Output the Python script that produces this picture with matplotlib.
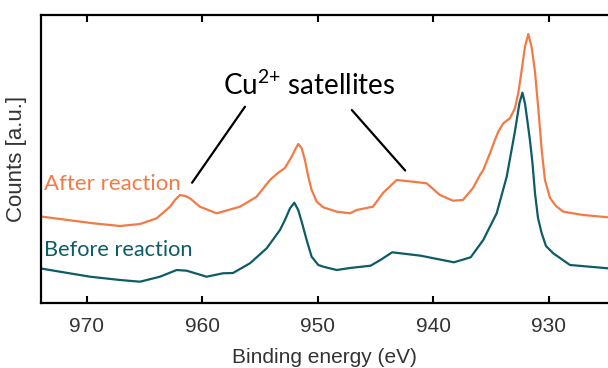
import matplotlib.pyplot as plt

# Cu 2p XPS spectra, counts in arbitrary units
energy_after = [973.98, 971.19, 969.45, 967.14, 965.41, 963.97, 962.81, 962.38,
                961.95, 961.50, 961.08, 960.22, 958.77, 956.75, 955.31, 954.16,
                953.44, 952.86, 952.28, 951.99, 951.71, 951.41, 951.13, 950.84,
                950.55, 950.11, 949.54, 948.38, 947.23, 946.65, 945.24, 944.37,
                943.19, 941.77, 940.59, 939.44, 938.31, 937.45, 936.58, 935.97,
                935.69, 935.10, 934.68, 934.39, 933.96, 933.38, 932.94, 932.66,
                932.36, 932.08, 931.79, 931.50, 931.21, 930.93, 930.63, 930.35,
                929.91, 929.39, 928.76, 927.03, 924.89]
counts_after = [86.5, 82.3, 79.7, 77.0, 79.0, 84.7, 96.3, 103.0,
                108.0, 107.0, 104.7, 96.3, 89.7, 96.3, 106.3, 123.0,
                130.3, 135.0, 146.3, 153.0, 159.0, 154.7, 143.0, 126.3,
                113.0, 101.3, 95.7, 91.3, 89.7, 93.0, 96.3, 110.0,
                123.0, 121.3, 119.7, 108.0, 102.3, 103.0, 115.0, 128.0,
                133.0, 150.0, 163.0, 171.3, 179.7, 184.7, 195.0, 209.7,
                233.0, 256.3, 269.0, 256.0, 231.0, 195.0, 153.0, 123.0,
                105.0, 97.0, 91.3, 88.0, 85.7]

energy_before = [973.98, 972.34, 969.74, 967.14, 965.41, 963.68, 962.23, 961.37,
                 959.64, 958.23, 957.36, 955.89, 954.44, 953.29, 952.86, 952.42,
                 952.05, 951.71, 951.41, 950.98, 950.55, 949.97, 949.54, 948.38,
                 947.23, 945.44, 944.60, 943.57, 941.11, 938.23, 936.78, 935.69,
                 934.53, 933.66, 932.94, 932.79, 932.56, 932.30, 932.08, 931.88,
                 931.65, 931.43, 931.21, 930.95, 930.63, 930.26, 929.63, 928.18,
                 924.89]
counts_before = [34.5, 31.3, 26.3, 23.0, 21.3, 26.3, 33.0, 32.3,
                 26.3, 29.7, 30.0, 39.7, 54.7, 73.0, 83.0, 94.7,
                 100.3, 93.0, 81.3, 63.0, 46.3, 38.0, 36.3, 33.0,
                 35.0, 37.3, 43.0, 50.7, 47.3, 40.7, 45.7, 63.0,
                 89.7, 126.3, 172.0, 183.0, 199.7, 210.3, 199.7, 183.0,
                 163.0, 140.0, 109.7, 85.0, 69.7, 57.0, 49.7, 38.0,
                 34.7]

orange = '#F37A45'
teal = '#0D5C66'
grey = '#333333'

fig = plt.figure(figsize=(6.08, 3.68), dpi=100)
ax = fig.add_axes([41 / 608, 65 / 368, 567 / 608, 288 / 368])

ax.plot(energy_after, counts_after, color=orange, linewidth=1.6)
ax.plot(energy_before, counts_before, color=teal, linewidth=1.6)

ax.set_xlim(973.98, 924.89)
ax.set_ylim(0, 288)
ax.set_xticks([970, 960, 950, 940, 930])
ax.set_yticks([])
ax.tick_params(axis='x', direction='in', length=5, width=1.5, top=True,
               labelsize=15, pad=10, labelcolor=grey)
for side in ['left', 'top', 'bottom']:
    ax.spines[side].set_linewidth(1.6)
ax.spines['right'].set_visible(False)

for lbl in ax.get_xticklabels():
    lbl.set_fontfamily('Liberation Sans')
ax.set_xlabel('Binding energy (eV)', fontfamily='Liberation Sans', fontsize=15,
              color=grey, labelpad=9)
ax.set_ylabel('Counts [a.u.]', fontfamily='Liberation Sans', fontsize=16,
              color=grey, labelpad=10)

ax.text(973.72, 113, 'After reaction', color=orange, fontsize=16,
        fontfamily='Lato', va='baseline', ha='left')
ax.text(973.72, 47, 'Before reaction', color=teal, fontsize=15.7,
        fontfamily='Lato', va='baseline', ha='left')
# braces around "+" keep mathtext from spacing it as a binary operator
ax.text(950.74, 208, r'Cu$^{\mathregular{2{+}}}$ satellites', color='black',
        fontsize=20, fontfamily='Lato', va='baseline', ha='center')

line = dict(arrowstyle='-', color='black', linewidth=1.6, shrinkA=0, shrinkB=0)
ax.annotate('', xy=(960.9, 120.3), xytext=(956.32, 196.3), arrowprops=line)
ax.annotate('', xy=(942.45, 132.5), xytext=(947.07, 193.0), arrowprops=line)

fig.savefig('out.png', dpi=100)
